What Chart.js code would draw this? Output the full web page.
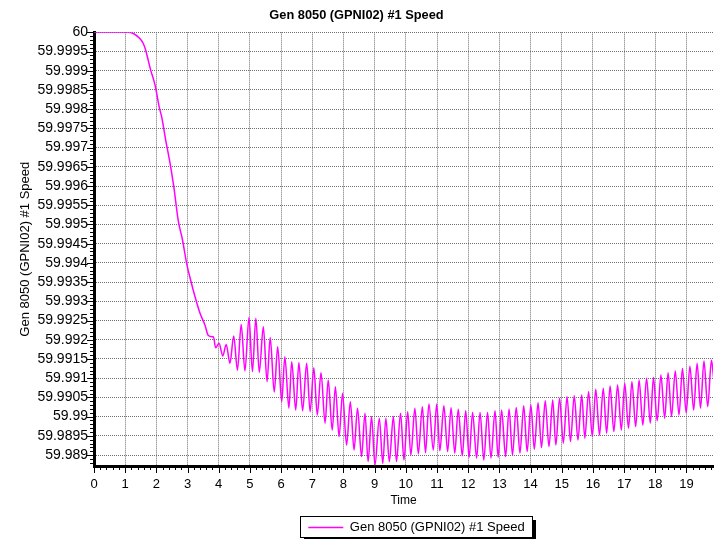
<!DOCTYPE html>
<html lang="en">
<head>
  <meta charset="UTF-8">
  <title>Gen 8050 (GPNI02) #1 Speed</title>
  <script src="https://cdn.jsdelivr.net/npm/chart.js"></script>
  <style>
    html, body { margin: 0; padding: 0; background: #fff; }
    .chart-box { width: 714px; height: 539px; }
  </style>
</head>
<body>
  <div class="chart-box"><canvas id="speedChart" width="714" height="539"></canvas></div>
  <script>
    const chartTitle = 'Gen 8050 (GPNI02) #1 Speed';
    const seriesName = 'Gen 8050 (GPNI02) #1 Speed';
    const xTitle = 'Time';

    const xTicks = [0, 1, 2, 3, 4, 5, 6, 7, 8, 9, 10, 11, 12, 13, 14, 15, 16, 17, 18, 19];
    const yTicks = [59.989, 59.9895, 59.99, 59.9905, 59.991, 59.9915, 59.992, 59.9925, 59.993, 59.9935, 59.994,
      59.9945, 59.995, 59.9955, 59.996, 59.9965, 59.997, 59.9975, 59.998, 59.9985, 59.999, 59.9995, 60];
    const yTickLabels = ['59.989', '59.9895', '59.99', '59.9905', '59.991', '59.9915', '59.992', '59.9925', '59.993',
      '59.9935', '59.994', '59.9945', '59.995', '59.9955', '59.996', '59.9965', '59.997', '59.9975', '59.998',
      '59.9985', '59.999', '59.9995', '60'];

    // time (s)
    const timeVals = [
      0, 1.0, 1.1, 1.26, 1.47, 1.58, 1.66, 1.74, 1.82, 1.90, 1.96, 2.01, 2.09, 2.17, 2.22, 2.30, 2.35, 2.44, 2.51,
      2.56, 2.70, 2.84, 2.97, 3.10, 3.24, 3.40,
      3.56, 3.66, 3.79, 3.83, 3.90, 4.01, 4.13, 4.24, 4.36, 4.48, 4.60, 4.72, 4.84, 4.97, 5.08, 5.19, 5.30, 5.43,
      5.55, 5.65, 5.78, 5.89, 6.02, 6.12, 6.25, 6.34, 6.47, 6.57, 6.69, 6.82, 6.93, 7.05, 7.16, 7.28, 7.41, 7.51,
      7.64, 7.74, 7.86, 7.97, 8.10, 8.22, 8.34, 8.45, 8.58, 8.69, 8.79, 8.90, 9.01, 9.15, 9.26, 9.36, 9.47, 9.60,
      9.70, 9.83, 9.94, 10.06, 10.16, 10.29, 10.40, 10.53, 10.63, 10.74, 10.88, 10.99, 11.09, 11.22, 11.34, 11.45,
      11.57, 11.68, 11.81, 11.92, 12.03, 12.14, 12.27, 12.38, 12.50, 12.62, 12.73, 12.86, 12.96, 13.07, 13.20,
      13.31, 13.42, 13.54, 13.66, 13.78, 13.89, 14.01, 14.12, 14.24, 14.35, 14.47, 14.59, 14.71, 14.81, 14.93,
      15.05, 15.17, 15.28, 15.40, 15.52, 15.64, 15.74, 15.86, 15.98, 16.09, 16.21, 16.33, 16.44, 16.55, 16.67,
      16.79, 16.91, 17.02, 17.14, 17.25, 17.37, 17.48, 17.60, 17.72, 17.84, 17.94, 18.06, 18.18, 18.30, 18.41,
      18.52, 18.64, 18.76, 18.87, 18.99, 19.11, 19.23, 19.34, 19.45, 19.56, 19.68, 19.80, 19.87
    ];
    // speed values
    const speedVals = [
      60, 60, 60, 59.99997, 59.99984, 59.99971, 59.99953, 59.99927, 59.99901, 59.9988, 59.99862, 59.99841, 59.99806,
      59.9978, 59.99758, 59.99719, 59.99698, 59.99659, 59.99624, 59.99598,
      59.99511, 59.99459, 59.99399, 59.99355, 59.99312, 59.99269, 59.99238, 59.99212, 59.99208, 59.99208, 59.99179,
      59.99191, 59.99158, 59.99188, 59.99139, 59.9921, 59.99121, 59.9924, 59.99119, 59.99258, 59.99117, 59.99256,
      59.99115, 59.99234, 59.99091, 59.99206, 59.99064, 59.99182, 59.99039, 59.99156, 59.99022, 59.99143, 59.99017,
      59.99141, 59.99015, 59.99139, 59.99013, 59.99127, 59.99004, 59.99114, 59.98983, 59.99095, 59.98965, 59.99078,
      59.98948, 59.99061, 59.98926, 59.99039, 59.98913, 59.99022, 59.98896, 59.99009, 59.98883, 59.99, 59.98874,
      59.98996, 59.98878, 59.98996, 59.98883, 59.99, 59.98883, 59.99009, 59.98887, 59.99013, 59.989, 59.99022,
      59.98903, 59.99026, 59.98906, 59.99033, 59.98913, 59.99033, 59.98911, 59.99028, 59.98909, 59.99023, 59.98905,
      59.99019, 59.98898, 59.99015, 59.98894, 59.99011, 59.98892, 59.99011, 59.98887, 59.99011, 59.98892, 59.99015,
      59.98894, 59.99017, 59.98896, 59.9902, 59.989, 59.99024, 59.98905, 59.99028, 59.98909, 59.9903, 59.98915,
      59.99036, 59.98919, 59.99041, 59.98922, 59.99043, 59.98926, 59.99048, 59.98931, 59.99052, 59.98935, 59.99054,
      59.98939, 59.99056, 59.98944, 59.99065, 59.98948, 59.99071, 59.98952, 59.99074, 59.98957, 59.9908, 59.98961,
      59.99082, 59.98965, 59.99087, 59.9897, 59.99091, 59.98974, 59.99095, 59.98978, 59.991, 59.98983, 59.99102,
      59.98989, 59.99108, 59.98996, 59.99114, 59.99, 59.99119, 59.99004, 59.99125, 59.9901, 59.99131, 59.99017,
      59.99139, 59.99022, 59.99145, 59.99026, 59.99147, 59.991
    ];

    const fontFamily = "'Liberation Sans', Arial, sans-serif";
    const PLOT_BOTTOM = 466;

    // small tick marks outside the axes, every 0.2 s and every 0.0001
    const axisTickMarks = {
      id: 'axisTickMarks',
      afterDraw(chart) {
        const { ctx, chartArea, scales: { x, y } } = chart;
        ctx.save();
        ctx.strokeStyle = '#000';
        ctx.lineWidth = 1;
        ctx.beginPath();
        for (let i = 0; i * 0.2 <= x.max; i++) {
          const px = Math.round(x.getPixelForValue(i * 0.2)) + 0.5;
          const len = i % 5 === 0 ? 6 : 3;
          ctx.moveTo(px, chartArea.bottom + 1);
          ctx.lineTo(px, chartArea.bottom + 1 + len);
        }
        for (let i = 0; 60 - i * 0.0001 >= y.min; i++) {
          const py = Math.round(y.getPixelForValue(60 - i * 0.0001)) + 0.5;
          const len = i % 5 === 0 ? 6 : 3;
          ctx.moveTo(chartArea.left - 1, py);
          ctx.lineTo(chartArea.left - 1 - len, py);
        }
        ctx.stroke();
        ctx.restore();
      }
    };

    // boxed legend with a dark drop shadow
    const legendFrame = {
      id: 'legendFrame',
      afterLayout(chart) {
        const lg = chart.legend;
        lg.left += 60;
        lg.right += 60;
        lg.top += 7;
        lg.bottom += 7;
      },
      beforeDraw(chart) {
        const lg = chart.legend;
        if (!lg || !lg.legendHitBoxes.length) return;
        const hb = lg.legendHitBoxes[0];
        const cx = (lg.left + lg.right) / 2;
        const bx = Math.round(cx - hb.width / 2 - 8) + 0.5;
        const by = Math.round(lg.top + (lg.height - 21) / 2) - 3 + 0.5;
        const bw = Math.round(hb.width + 16);
        const bh = 21;
        const ctx = chart.ctx;
        ctx.save();
        ctx.fillStyle = '#000';
        ctx.fillRect(bx + 3.5, by + 3.5, bw, bh);
        ctx.fillStyle = '#fff';
        ctx.fillRect(bx, by, bw, bh);
        ctx.strokeStyle = '#000';
        ctx.lineWidth = 1;
        ctx.strokeRect(bx, by, bw, bh);
        ctx.restore();
      }
    };

    const points = timeVals.map((t, i) => ({ x: t, y: speedVals[i] }));

    new Chart(document.getElementById('speedChart'), {
      type: 'line',
      data: {
        datasets: [{
          label: seriesName,
          data: points,
          borderColor: '#ff00ff',
          backgroundColor: '#ff00ff',
          borderWidth: 1.5,
          pointRadius: 0,
          fill: false,
          cubicInterpolationMode: 'monotone'
        }]
      },
      options: {
        responsive: false,
        animation: false,
        layout: { padding: { left: 0, right: 1, top: 0, bottom: 2 } },
        plugins: {
          title: {
            display: true,
            text: chartTitle,
            color: '#000',
            font: { family: fontFamily, size: 12.8, weight: 'bold' },
            padding: { top: 8, bottom: 9 }
          },
          legend: {
            position: 'bottom',
            labels: {
              color: '#000',
              font: { family: fontFamily, size: 13 },
              usePointStyle: true,
              pointStyle: 'line',
              pointStyleWidth: 35,
              boxHeight: 13,
              padding: 6
            }
          },
          tooltip: { enabled: false }
        },
        scales: {
          x: {
            type: 'linear',
            min: 0,
            max: 19.85,
            afterBuildTicks: s => { s.ticks = xTicks.map(v => ({ value: v })); },
            afterFit: s => { s.height = s.chart.height - 2 - s.chart.legend.height - PLOT_BOTTOM; },
            ticks: {
              color: '#000',
              font: { family: fontFamily, size: 13 },
              padding: 11,
              autoSkip: false,
              maxRotation: 0,
              callback: (v, i) => String(xTicks[i])
            },
            grid: { color: '#6e6e6e', lineWidth: 1, drawTicks: false },
            border: { display: true, color: '#000', width: 3, dash: [1, 1] },
            title: {
              display: true,
              text: xTitle,
              color: '#000',
              font: { family: fontFamily, size: 12 },
              padding: { top: 0, bottom: 0 }
            }
          },
          y: {
            type: 'linear',
            min: 59.988715,
            max: 60,
            afterBuildTicks: s => { s.ticks = yTicks.map(v => ({ value: v })); },
            afterFit: s => { s.width = 94; },
            ticks: {
              color: '#000',
              font: { family: fontFamily, size: 14 },
              padding: 6,
              autoSkip: false,
              callback: (v, i) => yTickLabels[i]
            },
            grid: { color: '#6e6e6e', lineWidth: 1, drawTicks: false },
            border: { display: true, color: '#000', width: 3, dash: [1, 1] },
            title: {
              display: true,
              text: seriesName,
              color: '#000',
              font: { family: fontFamily, size: 13 },
              padding: { top: 18, bottom: 0 }
            }
          }
        }
      },
      plugins: [axisTickMarks, legendFrame]
    });
  </script>
</body>
</html>
